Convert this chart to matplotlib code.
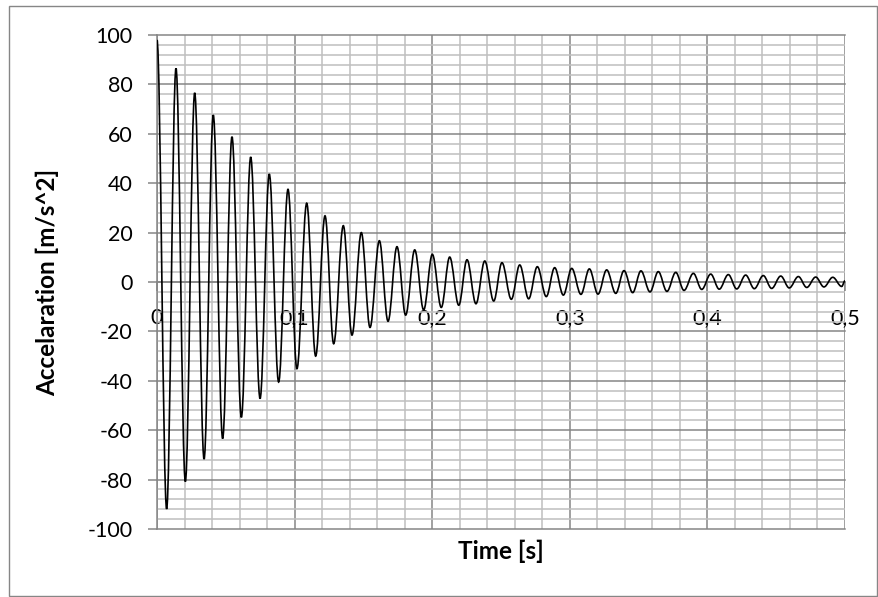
import matplotlib
matplotlib.use("Agg")
import matplotlib.pyplot as plt
from matplotlib.path import Path
from matplotlib.patches import PathPatch, Rectangle
from matplotlib.ticker import MultipleLocator, FuncFormatter

# ---- data: local maxima / minima of the signal ----
peak_t = [0.0000, 0.0138, 0.0274, 0.0409, 0.0545, 0.0681, 0.0816, 0.0952, 0.1088,
          0.1221, 0.1354, 0.1485, 0.1616, 0.1744, 0.1873, 0.2001, 0.2127, 0.2253,
          0.2382, 0.2507, 0.2636, 0.2764, 0.2890, 0.3014, 0.3142, 0.3268, 0.3394,
          0.3517, 0.3643, 0.3770, 0.3898, 0.4024, 0.4152, 0.4278, 0.4406, 0.4533,
          0.4661, 0.4787, 0.4911]
peak_v = [98.0, 86.5, 76.6, 67.6, 58.8, 50.6, 43.7, 37.5, 31.9,
          26.8, 22.8, 20.0, 16.7, 14.3, 13.0, 11.2, 10.1, 9.0,
          8.5, 7.8, 6.9, 6.2, 5.8, 5.5, 5.3, 4.9, 4.6,
          4.5, 4.2, 3.9, 3.5, 3.2, 3.0, 2.8, 2.6, 2.4,
          2.2, 2.0, 1.9]
trough_t = [0.0070, 0.0206, 0.0342, 0.0477, 0.0613, 0.0749, 0.0884, 0.1017, 0.1153,
            0.1284, 0.1417, 0.1548, 0.1679, 0.1807, 0.1938, 0.2066, 0.2193, 0.2318,
            0.2447, 0.2575, 0.2701, 0.2829, 0.2953, 0.3081, 0.3205, 0.3334, 0.3457,
            0.3583, 0.3706, 0.3830, 0.3959, 0.4086, 0.4213, 0.4341, 0.4467, 0.4595,
            0.4722, 0.4847, 0.4976]
trough_v = [-91.9, -80.8, -71.7, -63.4, -54.8, -47.2, -40.5, -35.1, -30.0,
            -25.0, -21.5, -18.4, -15.9, -13.4, -11.3, -10.3, -9.4, -8.8,
            -7.7, -7.0, -6.8, -5.9, -5.3, -5.0, -4.9, -4.6, -4.3,
            -4.0, -3.8, -3.4, -3.0, -2.9, -2.8, -2.7, -2.6, -2.4,
            -2.2, -2.0, -1.8]
end_t = 0.5
end_v = 0.5

x_ticks = [0.0, 0.1, 0.2, 0.3, 0.4, 0.5]
y_ticks = [-100, -80, -60, -40, -20, 0, 20, 40, 60, 80, 100]
x_label = "Time [s]"
y_label = "Accelaration [m/s^2]"

FONT = "Lato"
W, H = 879, 597
fig = plt.figure(figsize=(W / 100, H / 100), dpi=100)
fig.patch.set_facecolor("white")

# outer chart border
fig.add_artist(Rectangle((9 / W, 1 - 596 / H), (877 - 9) / W, (596 - 6) / H,
                         transform=fig.transFigure, fill=False,
                         edgecolor="#868686", linewidth=1.0))

L, R, T, B = 157, 845, 35, 529
ax = fig.add_axes([L / W, 1 - B / H, (R - L) / W, (B - T) / H])
ax.set_xlim(x_ticks[0], x_ticks[-1])
ax.set_ylim(y_ticks[0], y_ticks[-1])

ax.xaxis.set_major_locator(MultipleLocator(0.1))
ax.xaxis.set_minor_locator(MultipleLocator(0.02))
ax.yaxis.set_major_locator(MultipleLocator(20))
ax.yaxis.set_minor_locator(MultipleLocator(4))

ax.grid(True, which="minor", color="#bfbfbf", linewidth=1.1)
ax.grid(True, which="major", color="#868686", linewidth=1.1)
ax.set_axisbelow(True)
for ln in ax.get_xgridlines() + ax.get_ygridlines():
    ln.set_clip_on(False)

for s in ["top", "right"]:
    ax.spines[s].set_visible(False)
ax.spines["left"].set_color("#868686")
ax.spines["left"].set_linewidth(1.1)
ax.spines["bottom"].set_position(("data", 0))
ax.spines["bottom"].set_color("#868686")
ax.spines["bottom"].set_linewidth(1.1)

ax.tick_params(axis="y", which="major", direction="out", length=6.5, width=1.1,
               color="#868686", pad=11, labelsize=15.5, labelcolor="black")
ax.tick_params(axis="x", which="major", direction="out", length=6.5, width=1.1,
               color="#868686", pad=12, labelsize=15.5, labelcolor="black")
ax.tick_params(which="minor", length=0)

ax.xaxis.set_major_formatter(FuncFormatter(lambda v, p: ("%g" % round(v, 2)).replace(".", ",")))
ax.yaxis.set_major_formatter(FuncFormatter(lambda v, p: "%d" % v))
for lab in ax.get_xticklabels() + ax.get_yticklabels():
    lab.set_fontfamily(FONT)

# smooth (Excel-like) line through the extrema, drawn as cubic Bezier segments
pts = sorted(list(zip(peak_t, peak_v)) + list(zip(trough_t, trough_v)))
pts.append((end_t, end_v))
k = 0.3634
verts = [pts[0]]
codes = [Path.MOVETO]
for (t0, v0), (t1, v1) in zip(pts[:-1], pts[1:]):
    dt = t1 - t0
    verts += [(t0 + k * dt, v0), (t1 - k * dt, v1), (t1, v1)]
    codes += [Path.CURVE4] * 3
ax.add_patch(PathPatch(Path(verts, codes), fill=False, edgecolor="black",
                       linewidth=1.2, transform=ax.transData, zorder=3))

ax.set_xlabel(x_label, fontsize=17.5, fontweight="bold", fontfamily=FONT)
ax.xaxis.set_label_coords(0.5, -(551 - B) / (B - T))
ax.xaxis.label.set_verticalalignment("center")
ax.set_ylabel(y_label, fontsize=17.5, fontweight="bold", fontfamily=FONT)
ax.yaxis.set_label_coords(-(L - 47) / (R - L), 0.5)
ax.yaxis.label.set_verticalalignment("center")

fig.savefig("out.png", dpi=100, facecolor="white")
